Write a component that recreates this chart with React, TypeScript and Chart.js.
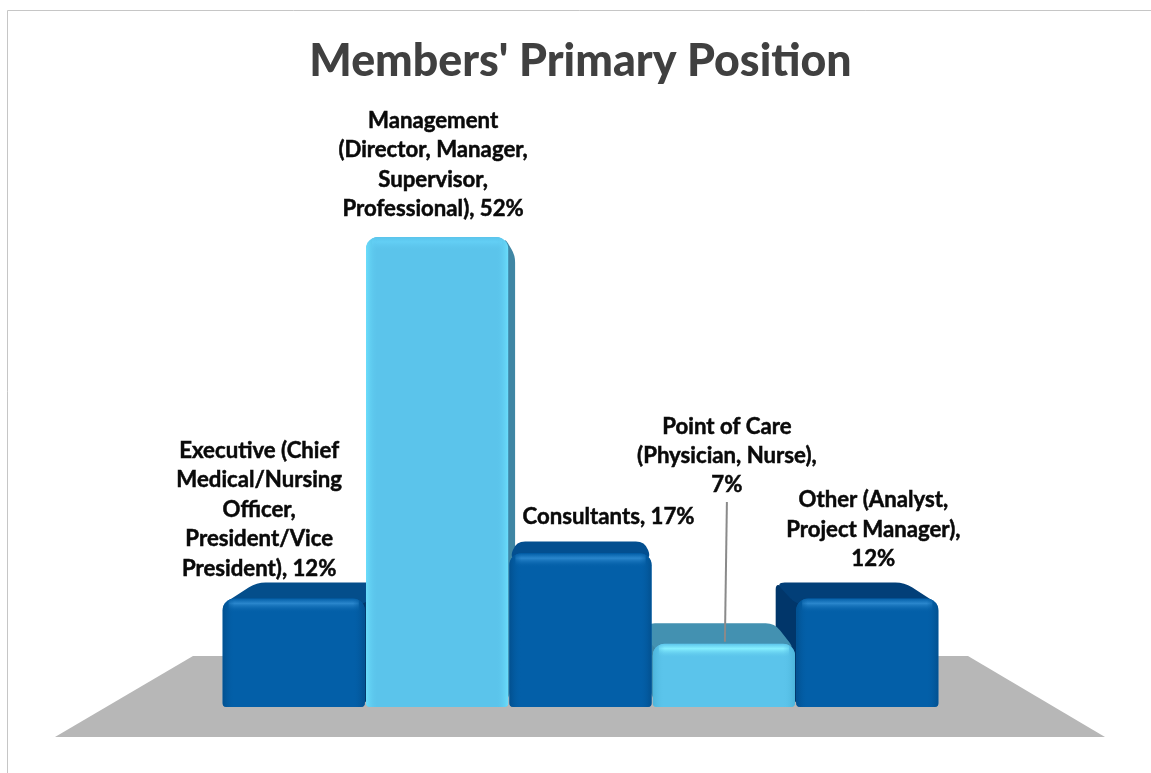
import React, { useEffect, useRef } from "react";
import { Chart, registerables } from "chart.js";

Chart.register(...registerables);

const titleText = "Members' Primary Position";
const categories = ["Executive", "Management", "Consultants", "Point of Care", "Other"];
const shares = [12, 52, 17, 7, 12];
const dataLabels = [
  ["Executive (Chief", "Medical/Nursing", "Officer,", "President/Vice", "President), 12%"],
  ["Management", "(Director, Manager,", "Supervisor,", "Professional), 52%"],
  ["Consultants, 17%"],
  ["Point of Care", "(Physician, Nurse),", "7%"],
  ["Other (Analyst,", "Project Manager),", "12%"],
];

const DARK = "#035FA8";
const LIGHT = "#5BC4EB";
const frontColors = [DARK, LIGHT, DARK, LIGHT, DARK];
const topColors = ["#044E8B", "#4C9DBE", "#034F90", "#4391B1", "#023F78"];
const sideColors = ["#02396C", "#3F86A4", "#02396C", "#3F86A4", "#01366A"];
const topGlow = ["#2A86CC", "#63CFF5", "#2A86CC", "#86F0FF", "#2A86CC"];
const edgeShade = ["#02508F", "#6ADDFB", "#02508F", "#4CB4DA", "#02508F"];
const labelOffsets = [
  [-34.5, -30],
  [-4, -28],
  [28, -36],
  [3, -158.5],
  [6, -39.5],
];
const LINE_H = 29.4;
const DEPTH = 0.095;

type P = [number, number];

function roundPoly(ctx: CanvasRenderingContext2D, pts: P[], r: number) {
  const n = pts.length;
  ctx.beginPath();
  for (let i = 0; i < n; i++) {
    const prev = pts[(i + n - 1) % n];
    const cur = pts[i];
    const next = pts[(i + 1) % n];
    const d1 = Math.hypot(prev[0] - cur[0], prev[1] - cur[1]);
    const d2 = Math.hypot(next[0] - cur[0], next[1] - cur[1]);
    const t1 = Math.min(r, d1 / 2) / (d1 || 1);
    const t2 = Math.min(r, d2 / 2) / (d2 || 1);
    const ax = cur[0] + (prev[0] - cur[0]) * t1;
    const ay = cur[1] + (prev[1] - cur[1]) * t1;
    const bx = cur[0] + (next[0] - cur[0]) * t2;
    const by = cur[1] + (next[1] - cur[1]) * t2;
    if (i === 0) ctx.moveTo(ax, ay);
    else ctx.lineTo(ax, ay);
    ctx.quadraticCurveTo(cur[0], cur[1], bx, by);
  }
  ctx.closePath();
}

const scenePlugin = {
  id: "scene",
  beforeDraw(chart: any) {
    const { ctx, width, height } = chart;
    ctx.save();
    ctx.fillStyle = "#ffffff";
    ctx.fillRect(0, 0, width, height);
    ctx.strokeStyle = "#c6c6c6";
    ctx.lineWidth = 1;
    ctx.beginPath();
    ctx.moveTo(7.5, height);
    ctx.lineTo(7.5, 10.5);
    ctx.lineTo(width, 10.5);
    ctx.stroke();
    ctx.restore();
  },
  beforeDatasetsDraw(chart: any) {
    const { ctx, chartArea } = chart;
    const base = chartArea.bottom;
    const vx = (chartArea.left + chartArea.right) / 2;
    const vy = base - 278;
    const back = (p: P): P => [p[0] + (vx - p[0]) * DEPTH, p[1] + (vy - p[1]) * DEPTH];
    ctx.save();
    ctx.fillStyle = "#B7B7B7";
    ctx.beginPath();
    ctx.moveTo(chartArea.left - 29, base - 51);
    ctx.lineTo(chartArea.right + 29, base - 51);
    ctx.lineTo(chartArea.right + 166, base + 30);
    ctx.lineTo(chartArea.left - 167, base + 30);
    ctx.closePath();
    ctx.fill();
    const bars = chart.getDatasetMeta(0).data.map((b: any, i: number) => ({ b, i }));
    bars.sort((a: any, c: any) => Math.abs(c.b.x - vx) - Math.abs(a.b.x - vx));
    for (const { b, i } of bars) {
      const l = b.x - b.width / 2;
      const r = b.x + b.width / 2;
      const fl: P = [l, b.y];
      const fr: P = [r, b.y];
      const bl = back(fl);
      const br = back(fr);
      if (l > vx || r < vx) {
        const fx = l > vx ? l + 4 : r - 4;
        const tp: P = [fx, b.y];
        const bt: P = [fx, base];
        const bx = l > vx ? back([l, b.y])[0] : back([r, b.y])[0];
        ctx.fillStyle = sideColors[i];
        roundPoly(ctx, [tp, [bx, back(tp)[1]], [bx, back(bt)[1]], bt], 7);
        ctx.fill();
      }
      if (bl[1] < b.y) {
        ctx.fillStyle = topColors[i];
        roundPoly(ctx, [[fl[0], fl[1] + 6], bl, br, [fr[0], fr[1] + 6]], 9);
        ctx.fill();
      }
    }
    ctx.restore();
  },
  afterDatasetsDraw(chart: any) {
    const { ctx } = chart;
    const bars = chart.getDatasetMeta(0).data;
    bars.forEach((b: any, i: number) => {
      const l = b.x - b.width / 2;
      const w = b.width;
      const h = b.base - b.y;
      ctx.save();
      ctx.beginPath();
      ctx.roundRect(l, b.y, w, h, [12, 12, 4, 4]);
      ctx.clip();
      const g = ctx.createLinearGradient(0, b.y, 0, b.y + 14);
      g.addColorStop(0, frontColors[i]);
      g.addColorStop(0.35, topGlow[i]);
      g.addColorStop(1, frontColors[i] + "00");
      ctx.fillStyle = g;
      ctx.fillRect(l + 6, b.y, w - 12, 14);
      const gl = ctx.createLinearGradient(l, 0, l + 12, 0);
      gl.addColorStop(0, edgeShade[i]);
      gl.addColorStop(1, frontColors[i] + "00");
      ctx.fillStyle = gl;
      ctx.fillRect(l, b.y, 12, h);
      const gr = ctx.createLinearGradient(l + w - 12, 0, l + w, 0);
      gr.addColorStop(0, frontColors[i] + "00");
      gr.addColorStop(1, edgeShade[i]);
      ctx.fillStyle = gr;
      ctx.fillRect(l + w - 12, b.y, 12, h);
      ctx.restore();
    });
    ctx.save();
    const poc = bars[3];
    ctx.strokeStyle = "#8A8A8A";
    ctx.lineWidth = 2;
    ctx.beginPath();
    ctx.moveTo(poc.x + 3, 502);
    ctx.lineTo(poc.x + 1, poc.y - 2);
    ctx.stroke();
    ctx.fillStyle = "#0A0A0A";
    ctx.strokeStyle = "#0A0A0A";
    ctx.lineWidth = 0.5;
    ctx.font = "bold 22.2px Lato";
    ctx.textAlign = "center";
    ctx.textBaseline = "middle";
    bars.forEach((b: any, i: number) => {
      const lines = dataLabels[i];
      const cx = b.x + labelOffsets[i][0];
      const lastY = b.y + labelOffsets[i][1];
      lines.forEach((t, k) => {
        const y = lastY - (lines.length - 1 - k) * LINE_H;
        ctx.fillText(t, cx, y);
        ctx.strokeText(t, cx, y);
      });
    });
    ctx.restore();
  },
};

export default function App() {
  const ref = useRef<HTMLCanvasElement>(null);
  useEffect(() => {
    const chart = new Chart(ref.current as HTMLCanvasElement, {
      type: "bar",
      data: {
        labels: categories,
        datasets: [
          {
            data: shares,
            backgroundColor: frontColors,
            borderSkipped: false,
            borderWidth: 0,
            borderRadius: { topLeft: 12, topRight: 12, bottomLeft: 4, bottomRight: 4 },
            barPercentage: 0.992,
            categoryPercentage: 1,
          },
        ],
      },
      options: {
        animation: false,
        responsive: false,
        devicePixelRatio: 1,
        layout: { padding: { left: 222, right: 212, bottom: 66, top: 0 } },
        plugins: {
          legend: { display: false },
          tooltip: { enabled: false },
          title: {
            display: true,
            text: titleText,
            color: "#404040",
            font: { family: "Lato", size: 44.7, weight: "900", lineHeight: 1.2 },
            padding: { top: 35, bottom: 76 },
          },
        },
        scales: {
          x: { display: false, grid: { display: false } },
          y: { display: false, min: 0, max: 60, grid: { display: false } },
        },
      },
      plugins: [scenePlugin],
    } as any);
    return () => chart.destroy();
  }, []);
  return (
    <div style={{ position: "absolute", left: 0, top: 0, width: 1151, height: 773, overflow: "hidden" }}>
      <canvas ref={ref} width={1151} height={773} style={{ display: "block" }} />
    </div>
  );
}
